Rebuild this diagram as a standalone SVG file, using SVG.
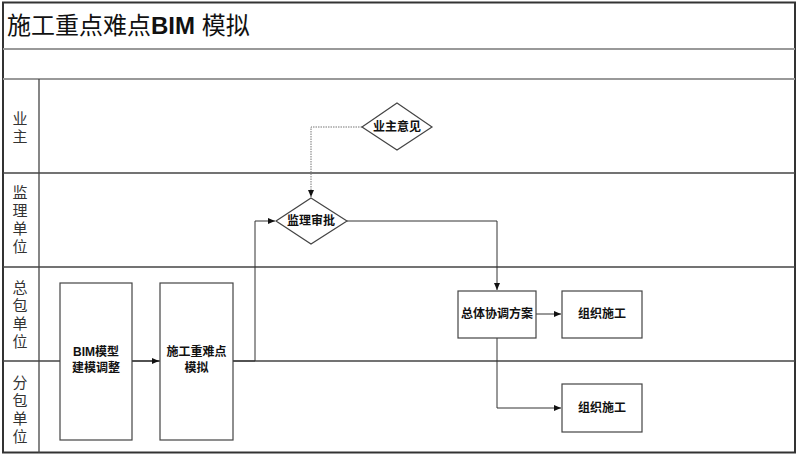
<svg xmlns="http://www.w3.org/2000/svg" width="800" height="456" viewBox="0 0 800 456">
<defs>
<style>
.lane{stroke:#444;stroke-width:1.3;fill:none}
.hdr{stroke:#999;stroke-width:2;fill:none}
.box{fill:#fff;stroke:#444;stroke-width:1.2}
.lbl{font-family:"Liberation Sans","Noto Sans CJK SC",sans-serif;font-size:12px;font-weight:bold;fill:#111;text-anchor:middle}
.lane-t{font-family:"Noto Sans CJK SC",sans-serif;font-size:15px;fill:#333;text-anchor:middle;writing-mode:vertical-rl;letter-spacing:3px}
.con{stroke:#333;stroke-width:1;fill:none}
.dot{stroke:#777;stroke-width:1;fill:none;stroke-dasharray:1.5 1}
</style>
<marker id="ah" markerWidth="8" markerHeight="8" refX="7" refY="4" orient="auto" markerUnits="userSpaceOnUse">
<path d="M0,1 L7,4 L0,7 Z" fill="#111"/>
</marker>
</defs>
<rect x="0" y="0" width="800" height="456" fill="#fff"/>
<g id="frame">
<rect x="3" y="2.5" width="792" height="450" fill="none" stroke="#333" stroke-width="2"/>
<line class="hdr" x1="3" y1="49" x2="795" y2="49"/>
<line class="hdr" x1="3" y1="79" x2="795" y2="79"/>
<line class="lane" x1="39" y1="79" x2="39" y2="453"/>
<line class="lane" x1="3" y1="173" x2="795" y2="173"/>
<line class="lane" x1="3" y1="267" x2="795" y2="267"/>
<line class="lane" x1="3" y1="361" x2="795" y2="361"/>
<text x="7" y="34" font-family="Liberation Sans,Noto Sans CJK SC,sans-serif" font-size="24" fill="#111">施工重点难点<tspan font-weight="bold">BIM</tspan> 模拟</text>
</g>
<g id="lane-labels">
<text class="lane-t" x="20" y="129">业主</text>
<text class="lane-t" x="20" y="221">监理单位</text>
<text class="lane-t" x="20" y="316">总包单位</text>
<text class="lane-t" x="20" y="411">分包单位</text>
</g>
<g id="connectors">
<line class="con" x1="132" y1="361" x2="159" y2="361" marker-end="url(#ah)"/>
<polyline class="con" points="233,361 255,361 255,221 275,221" marker-end="url(#ah)"/>
<polyline class="dot" points="362,127 311,127 311,197" marker-end="url(#ah)"/>
<polyline class="con" points="347,221 497,221 497,290" marker-end="url(#ah)"/>
<line class="con" x1="536" y1="314" x2="561" y2="314" marker-end="url(#ah)"/>
<polyline class="con" points="497,338 497,408 561,408" marker-end="url(#ah)"/>
</g>
<g id="n-bim">
<rect class="box" x="60" y="283" width="72" height="157"/>
<text class="lbl" x="96" y="356">BIM模型</text>
<text class="lbl" x="96" y="372">建模调整</text>
</g>
<g id="n-sim">
<rect class="box" x="160" y="283" width="73" height="157"/>
<text class="lbl" x="196.5" y="356">施工重难点</text>
<text class="lbl" x="196.5" y="372">模拟</text>
</g>
<g id="n-owner">
<polygon class="box" points="397,103 432,127 397,150 362,127"/>
<text class="lbl" x="397" y="131">业主意见</text>
</g>
<g id="n-approve">
<polygon class="box" points="311,198 347,221 311,244 276,221"/>
<text class="lbl" x="311" y="225">监理审批</text>
</g>
<g id="n-plan">
<rect class="box" x="458" y="291" width="78" height="47"/>
<text class="lbl" x="497" y="318">总体协调方案</text>
</g>
<g id="n-org1">
<rect class="box" x="562" y="291" width="80" height="47"/>
<text class="lbl" x="602" y="318">组织施工</text>
</g>
<g id="n-org2">
<rect class="box" x="562" y="384" width="80" height="48"/>
<text class="lbl" x="602" y="412">组织施工</text>
</g>
</svg>
